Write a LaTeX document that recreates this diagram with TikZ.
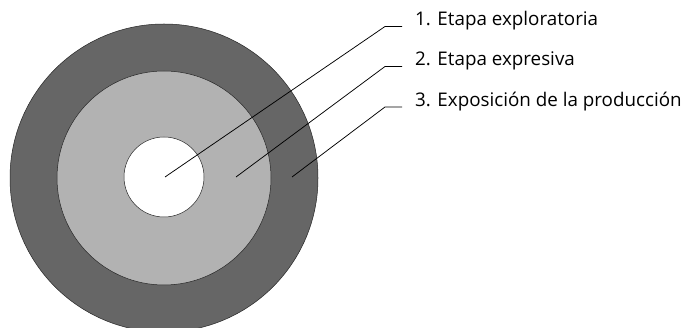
\documentclass[tikz,border=0pt]{standalone}
\usepackage{fontspec}
\setmainfont{Open Sans}

\begin{document}
\begin{tikzpicture}[x=1pt, y=-1pt,
    ring/.style={circle, draw=black!85, line width=0.5pt, inner sep=0pt},
    stage/.style={anchor=base west, inner sep=0pt, font=\fontsize{18.8}{22}\selectfont},
    leader/.style={line width=0.75pt}]
    \useasboundingbox (0,0) rectangle (693,328);

    \node[ring, fill=black!60, minimum size=308pt] (outer) at (164,178) {};
    \node[ring, fill=black!30, minimum size=214pt] (middle) at (164,178) {};
    \node[ring, fill=white, minimum size=80pt] (inner) at (164,177) {};

    \coordinate (p1) at (165,177);
    \coordinate (p2) at (236,177);
    \coordinate (p3) at (292,177);

    \coordinate (k1) at (385,26.5);
    \coordinate (k2) at (385,66.5);
    \coordinate (k3) at (385,107);

    \coordinate (e1) at (402,26.5);
    \coordinate (e2) at (402,66.5);
    \coordinate (e3) at (402,107);

    \node[stage] (l1) at (415,26) {1. Etapa exploratoria};
    \node[stage] (l2) at (415,66) {2. Etapa expresiva};
    \node[stage] (l3) at (415,106.5) {3. Exposición de la producción};

    \draw[leader] (p1) -- (k1) -- (e1);
    \draw[leader] (p2) -- (k2) -- (e2);
    \draw[leader] (p3) -- (k3) -- (e3);
\end{tikzpicture}
\end{document}
